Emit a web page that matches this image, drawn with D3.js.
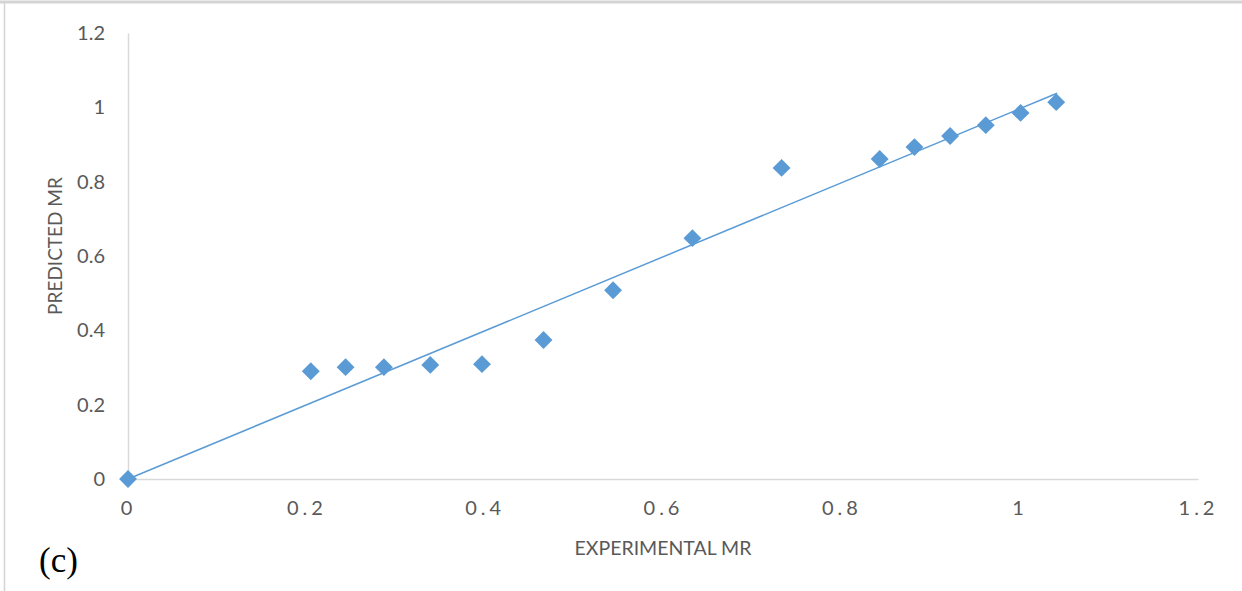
<!DOCTYPE html>
<html>
<head>
<meta charset="utf-8">
<script src="https://cdn.jsdelivr.net/npm/d3@7"></script>
<style>
  body { margin: 0; background: #fff; }
  svg { display: block; }
</style>
</head>
<body>
<div class="chart"></div>
<script>
// experimental vs predicted MR
var experimental = [0, 0.205, 0.244, 0.287, 0.339, 0.397, 0.466, 0.544, 0.633, 0.733, 0.843, 0.882, 0.922, 0.962, 1.001, 1.041];
var predicted    = [0, 0.290, 0.301, 0.301, 0.307, 0.309, 0.374, 0.508, 0.648, 0.837, 0.861, 0.893, 0.923, 0.952, 0.985, 1.014];

// linear trendline (through origin)
var trendX = [0, 1.042];
var trendY = [0, 1.038];

var xTicks = [0, 0.2, 0.4, 0.6, 0.8, 1, 1.2];
var yTicks = [0, 0.2, 0.4, 0.6, 0.8, 1, 1.2];

var svgWidth = 1242, svgHeight = 591;
var margin = { top: 33, right: 44, bottom: 112, left: 128 };
var width = svgWidth - margin.left - margin.right;
var height = svgHeight - margin.top - margin.bottom;

var svg = d3.select(".chart").append("svg")
  .attr("width", svgWidth)
  .attr("height", svgHeight);

// outer frame bits
svg.append("line").attr("x1", 0).attr("x2", svgWidth).attr("y1", 2).attr("y2", 2)
  .attr("stroke", "#d4d4d4").attr("stroke-width", 3);
svg.append("line").attr("x1", 4.5).attr("x2", 4.5).attr("y1", 2).attr("y2", svgHeight)
  .attr("stroke", "#d4d4d4").attr("stroke-width", 1.5);

var chartGroup = svg.append("g")
  .attr("transform", `translate(${margin.left}, ${margin.top})`);

var x = d3.scaleLinear().domain([0, 1.2]).range([0, width]);
var y = d3.scaleLinear().domain([0, 1.2]).range([height, 0]);

// axes
var xAxis = d3.axisBottom(x).tickValues(xTicks).tickSize(0).tickPadding(22)
  .tickFormat(d => d3.format("")(d));
var yAxis = d3.axisLeft(y).tickValues(yTicks).tickSize(0).tickPadding(23)
  .tickFormat(d => d3.format("")(d));

var gx = chartGroup.append("g")
  .attr("transform", `translate(0, ${height})`)
  .call(xAxis);
var gy = chartGroup.append("g").call(yAxis);

[gx, gy].forEach(function(g) {
  g.select(".domain").attr("stroke", "#d9d9d9").attr("stroke-width", 1.5);
  g.selectAll("text")
    .attr("fill", "#595959")
    .style("font-family", "Lato, 'Open Sans', sans-serif")
    .style("font-size", "20px");
});
gx.selectAll("text").style("letter-spacing", "4px");

// trendline
var line = d3.line()
  .x(d => x(d[0]))
  .y(d => y(d[1]));

chartGroup.append("path")
  .datum(d3.zip(trendX, trendY))
  .attr("d", line)
  .attr("fill", "none")
  .attr("stroke", "#5b9bd5")
  .attr("stroke-width", 1.5);

// diamond markers
var diamond = d3.symbol().type(d3.symbolSquare).size(160);
chartGroup.selectAll(".pt")
  .data(d3.zip(experimental, predicted))
  .enter()
  .append("path")
  .attr("class", "pt")
  .attr("d", diamond)
  .attr("transform", d => `translate(${x(d[0])}, ${y(d[1])}) rotate(45)`)
  .attr("fill", "#5b9bd5");

// axis titles
svg.append("text")
  .attr("x", 663)
  .attr("y", 555)
  .attr("text-anchor", "middle")
  .attr("fill", "#595959")
  .style("font-family", "Lato, 'Open Sans', sans-serif")
  .style("font-size", "19.5px")
  .text("EXPERIMENTAL MR");

svg.append("text")
  .attr("transform", "translate(62, 246) rotate(-90)")
  .attr("text-anchor", "middle")
  .attr("fill", "#595959")
  .style("font-family", "Lato, 'Open Sans', sans-serif")
  .style("font-size", "19px")
  .text("PREDICTED MR");

// panel label
svg.append("text")
  .attr("x", 39)
  .attr("y", 572)
  .attr("fill", "#000")
  .style("font-family", "'Liberation Serif', 'DejaVu Serif', serif")
  .style("font-size", "35px")
  .text("(c)");
</script>
</body>
</html>
